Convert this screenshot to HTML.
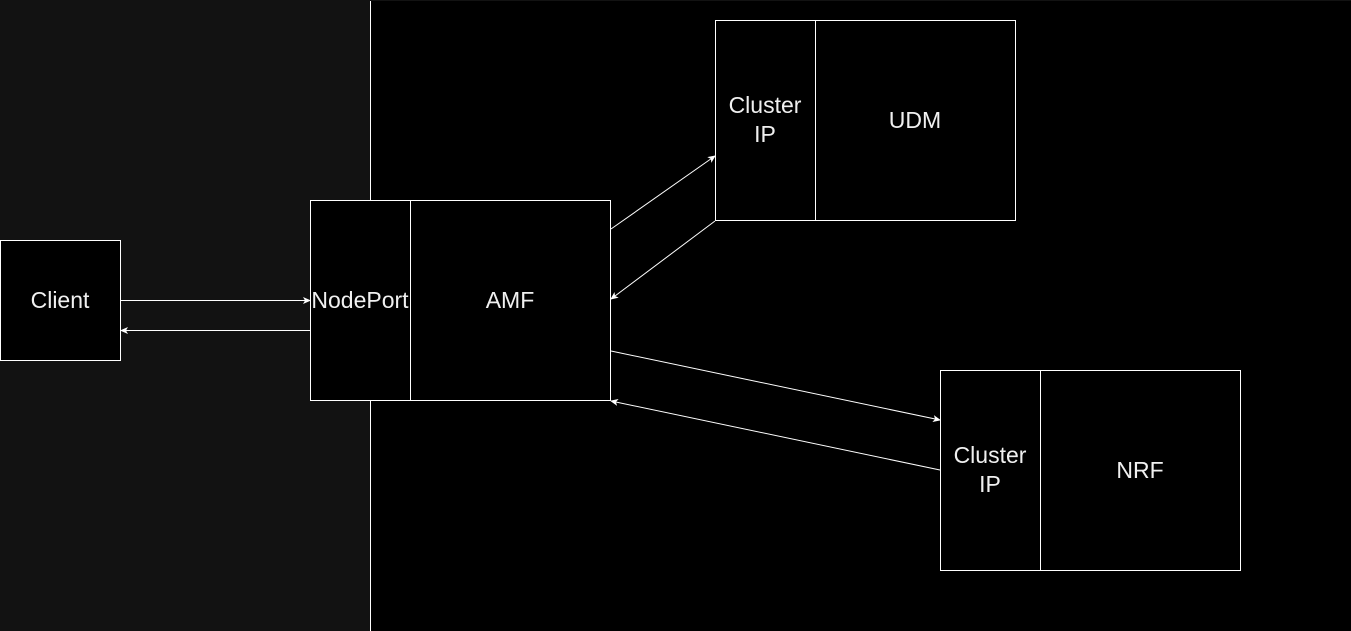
<!DOCTYPE html>
<html><head><style>html,body{margin:0;padding:0;background:#121212;}svg{display:block}</style></head>
<body>
<svg width="1351" height="631" xmlns="http://www.w3.org/2000/svg">
<defs><marker id="a" markerWidth="8" markerHeight="8" refX="7" refY="4" orient="auto" markerUnits="userSpaceOnUse"><path d="M0,0.5 L8,4 L0,7.5 L2,4 Z" fill="#fff"/></marker></defs>
<rect x="0" y="0" width="1351" height="631" fill="#121212"/>
<rect x="370" y="1" width="981" height="630" fill="#000"/>
<line x1="370.5" y1="1" x2="370.5" y2="631" stroke="#fff"/>
<g fill="#000" stroke="#fff">
<rect x="0.5" y="240.5" width="120" height="120"/>
<rect x="310.5" y="200.5" width="300" height="200"/><line x1="410.5" y1="200.5" x2="410.5" y2="400.5"/>
<rect x="715.5" y="20.5" width="300" height="200"/><line x1="815.5" y1="20.5" x2="815.5" y2="220.5"/>
<rect x="940.5" y="370.5" width="300" height="200"/><line x1="1040.5" y1="370.5" x2="1040.5" y2="570.5"/>
</g>
<g stroke="#fff" fill="none" marker-end="url(#a)">
<line x1="121" y1="300.5" x2="310" y2="300.5"/>
<line x1="310" y1="330.5" x2="121" y2="330.5"/>
<line x1="611" y1="229" x2="715" y2="156"/>
<line x1="715" y1="221" x2="611" y2="299"/>
<line x1="611" y1="351" x2="940" y2="420"/>
<line x1="940" y1="470" x2="611" y2="401"/>
</g>
<g fill="#f0f0f0" font-family="Liberation Sans, sans-serif" font-size="23" text-anchor="middle">
<text x="60" y="308">Client</text>
<text x="360" y="308">NodePort</text>
<text x="510" y="308">AMF</text>
<text x="765" y="113">Cluster</text><text x="765" y="142">IP</text>
<text x="915" y="128">UDM</text>
<text x="990" y="463">Cluster</text><text x="990" y="492">IP</text>
<text x="1140" y="478">NRF</text>
</g>
</svg>
</body></html>
